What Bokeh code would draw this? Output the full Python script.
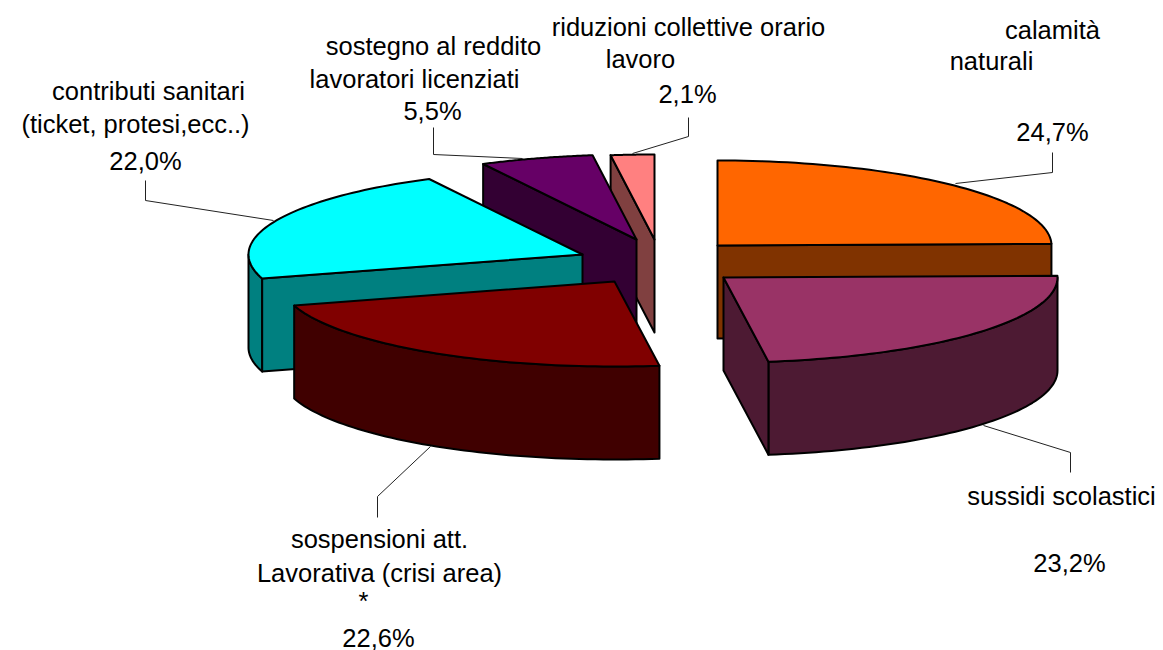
import numpy as np
from bokeh.plotting import figure
from bokeh.models import Range1d, ColumnDataSource
from bokeh.core.properties import value
from bokeh.embed import file_html
from bokeh.resources import INLINE

# data
categories = ["calamità naturali", "sussidi scolastici", "sospensioni att. Lavorativa (crisi area) *",
              "contributi sanitari (ticket, protesi,ecc..)", "sostegno al reddito lavoratori licenziati",
              "riduzioni collettive orario lavoro"]
percent_values = [24.7, 23.2, 22.6, 22.0, 5.5, 2.1]

# style and layout of the exploded 3-D pie (page pixels)
top_colors = ["#FF6600", "#993366", "#800000", "#00FFFF", "#660066", "#FF8080"]
side_colors = ["#803300", "#4D1A33", "#400000", "#008080", "#330033", "#804040"]
centre_x = [717, 723, 614, 582, 636, 654]
centre_y = [245, 277, 281, 254, 239, 239]
draw_order = [5, 4, 3, 0, 2, 1]
RX, RY, DEPTH = 334, 85, 93

label_text = ["calamità", "naturali", "24,7%",
              "sussidi scolastici", "23,2%",
              "sospensioni att.", "Lavorativa (crisi area)", "*", "22,6%",
              "contributi sanitari", "(ticket, protesi,ecc..)", "22,0%",
              "sostegno al reddito", "lavoratori licenziati", "5,5%",
              "riduzioni collettive orario", "lavoro", "2,1%"]
label_x = [1052, 991, 1052, 1061, 1069, 379, 379, 363, 378, 148, 135, 145, 433, 414, 432, 688, 640, 687]
label_y = [29, 60, 131, 495, 562, 538, 572, 600, 637, 90, 123, 160, 45, 78, 110, 26, 58, 93]

leader_x = [[955, 1052, 1052], [983, 1070, 1070], [430, 377, 377], [273, 145, 145], [522, 433, 433], [632, 688, 688]]
leader_y = [[183, 172, 152], [425, 452, 472], [446, 496, 517], [220, 200, 180], [158, 154, 127], [153, 136, 117]]

p = figure(width=1163, height=650, x_range=Range1d(0, 1163), y_range=Range1d(650, 0),
           output_backend="svg", toolbar_location=None, min_border=0,
           background_fill_color="white", border_fill_color="white")
p.axis.visible = False
p.grid.visible = False
p.outline_line_color = None

v = np.array(percent_values, dtype=float)
edges = np.concatenate([[0.0], np.cumsum(v) / v.sum() * 2 * np.pi])


def rim(cx, cy, a0, a1, n=60):
    t = np.linspace(a0, a1, n)
    return cx + RX * np.sin(t), cy - RY * np.cos(t)


def face(xs, ys, fill):
    p.patch(list(xs), list(ys), fill_color=fill, line_color="black", line_width=2, line_join="round")


for i in draw_order:
    a0, a1 = edges[i], edges[i + 1]
    cx, cy = centre_x[i], centre_y[i]
    # outer wall: the part of the rim on the viewer's side
    lo, hi = max(a0, np.pi / 2), min(a1, 3 * np.pi / 2)
    if hi > lo:
        x, y = rim(cx, cy, lo, hi)
        face(np.r_[x, x[::-1]], np.r_[y, y[::-1] + DEPTH], side_colors[i])
    # radial walls that face the viewer
    for a, visible in ((a0, np.sin(a0) < 0), (a1, np.sin(a1) > 0)):
        if visible:
            ex, ey = cx + RX * np.sin(a), cy - RY * np.cos(a)
            face([cx, ex, ex, cx], [cy, ey, ey + DEPTH, cy + DEPTH], side_colors[i])
    # top face
    x, y = rim(cx, cy, a0, a1)
    face(np.r_[cx, x], np.r_[cy, y], top_colors[i])

p.multi_line(leader_x, leader_y, line_color="#222222", line_width=1)

src = ColumnDataSource(dict(x=label_x, y=label_y, t=label_text))
p.text("x", "y", text="t", source=src, text_font=value("Liberation Sans"), text_font_size="25.5px",
       text_color="black", text_align="center", text_baseline="middle")

open("out.html", "w").write(file_html(p, INLINE))
